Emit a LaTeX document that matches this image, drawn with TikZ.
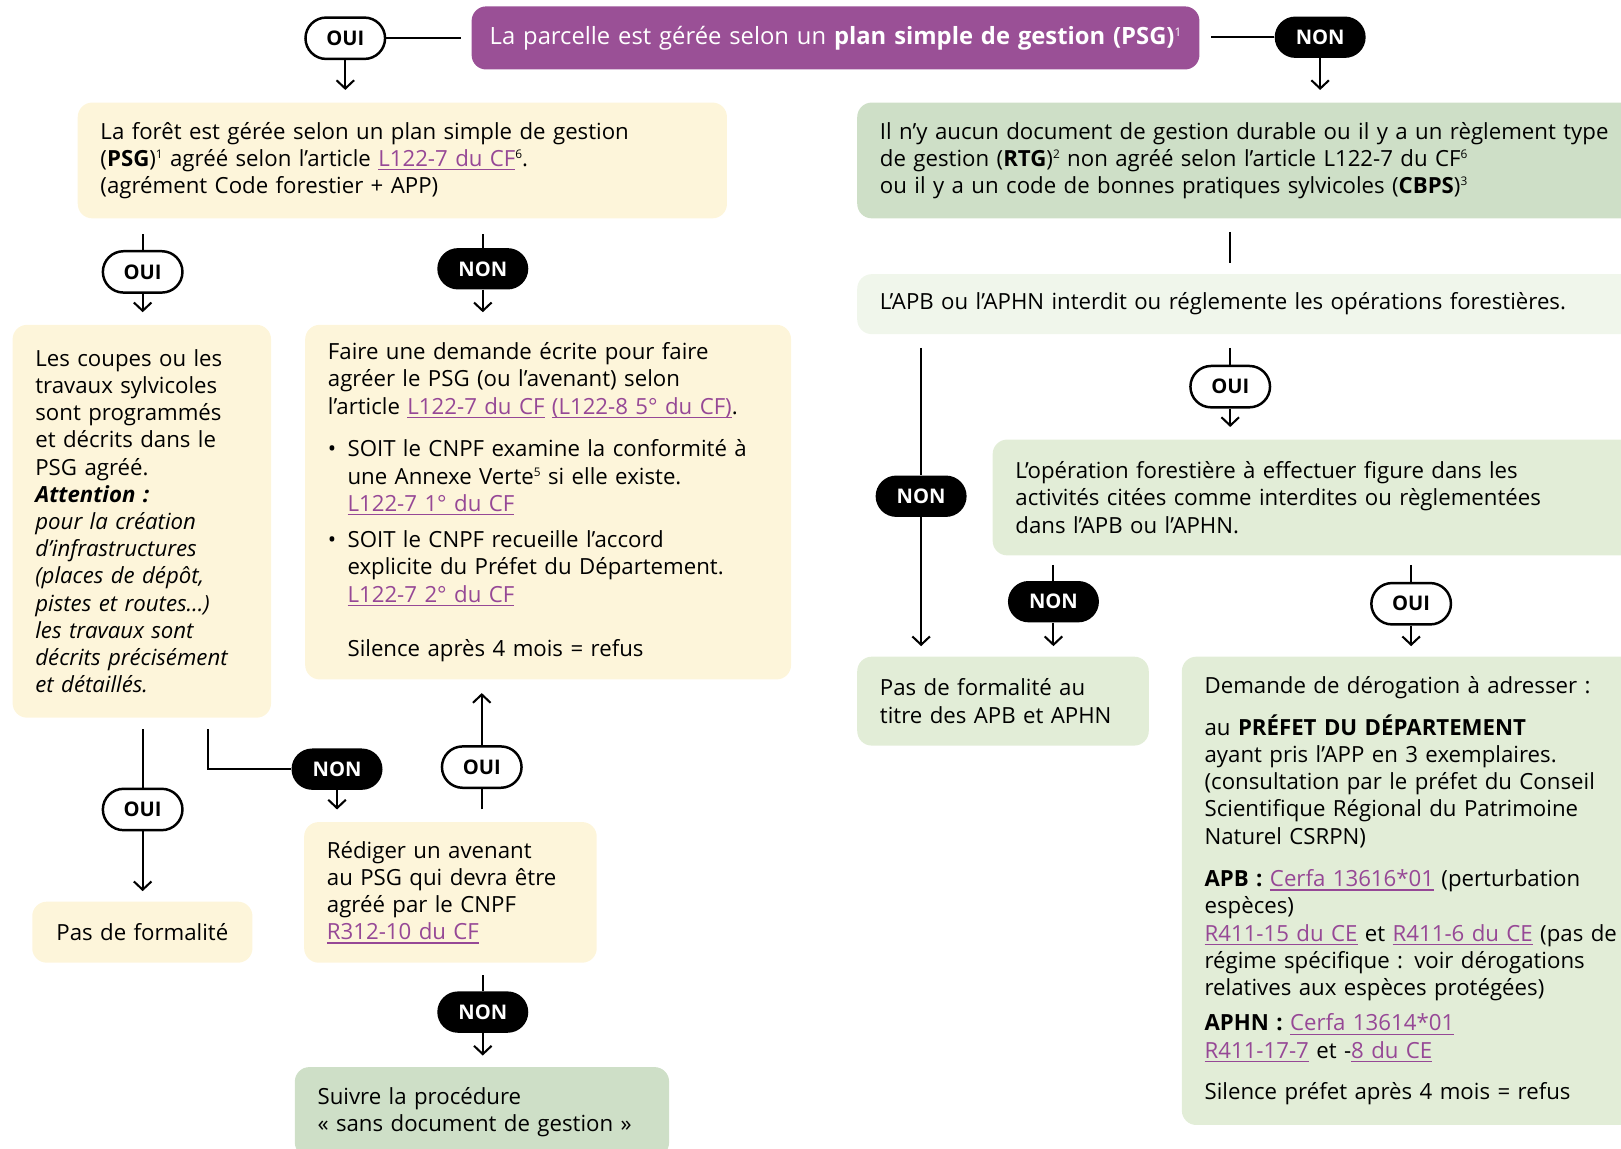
\documentclass[tikz,border=0pt]{standalone}
\usepackage{fontspec}
\setmainfont{Open Sans}
\usetikzlibrary{arrows.meta,positioning}

\definecolor{psgviolet}{RGB}{154,80,150}
\definecolor{lienviolet}{RGB}{150,72,150}
\definecolor{jaune}{RGB}{253,245,218}
\definecolor{vertfonce}{RGB}{206,223,199}
\definecolor{vertmoyen}{RGB}{226,237,215}
\definecolor{vertclair}{RGB}{240,246,235}

\newsavebox{\lienbox}
\newcommand{\lien}[1]{\leavevmode{\color{lienviolet}\sbox{\lienbox}{#1}%
    \rlap{\rule[-4pt]{\wd\lienbox}{1.4pt}}\usebox{\lienbox}}}
\newcommand{\expo}[1]{\raisebox{7.5pt}{\fontsize{11.5}{11.5}\selectfont #1}}
\newcommand{\ind}{\hspace*{19pt}}
\newcommand{\puce}{\makebox[19pt][l]{\textbullet}}

\tikzset{
    box/.style={rounded corners=14pt, inner xsep=22pt, inner ysep=0pt,
        anchor=north west, align=left},
    bulle/.style={rounded corners=20pt, minimum height=40pt, inner sep=0pt,
        font=\fontsize{19.5}{20}\selectfont\bfseries},
    ouibulle/.style={bulle, draw, line width=2.4pt, fill=white, minimum width=77pt},
    nonbulle/.style={bulle, fill=black, text=white, minimum width=88pt},
    fil/.style={line width=2pt},
    fleche/.style={fil, -{Straight Barb[length=8pt,width=17pt]}},
}

\begin{document}
\begin{tikzpicture}[x=1pt,y=-1pt, font=\fontsize{21.5}{26.3}\selectfont]
    \useasboundingbox (0,0) rectangle (1568,1111);

    % Title box
    \node[box, fill=psgviolet, text=white, inner xsep=10pt, text width=684pt, minimum height=61pt,
        align=center, font=\fontsize{23}{26}\selectfont]
        (psg) at (456,6) {La parcelle est gérée selon un \textbf{plan simple de gestion (PSG)}\expo{1}};

    % Left column
    \node[box, fill=jaune, text width=584pt, minimum height=112pt] (foret) at (75,99)
        {La forêt est gérée selon un plan simple de gestion\\
         (\textbf{PSG})\expo{1} agréé selon l’article \lien{L122-7 du CF}\expo{6}.\\
         (agrément Code forestier + APP)};
    \node[box, fill=jaune, text width=206pt, minimum height=380pt] (coupes) at (12,314)
        {Les coupes ou les\\ travaux sylvicoles\\ sont programmés\\ et décrits dans le\\ PSG agréé.\\
         \textbf{\textit{Attention :}}\\
         \textit{pour la création}\\ \textit{d’infrastructures}\\ \textit{(places de dépôt,}\\
         \textit{pistes et routes…)}\\ \textit{les travaux sont}\\ \textit{décrits précisément}\\ \textit{et détaillés.}};
    \node[box, fill=jaune, text width=426pt, minimum height=343pt] (demande) at (295,314)
        {Faire une demande écrite pour faire\\
         agréer le PSG (ou l’avenant) selon\\
         l’article \lien{L122-7 du CF} \lien{(L122-8 5° du CF)}.\\[15pt]
         \puce SOIT le CNPF examine la conformité à\\
         \ind une Annexe Verte\expo{5} si elle existe.\\
         \ind\lien{L122-7 1° du CF}\\[9pt]
         \puce SOIT le CNPF recueille l’accord\\
         \ind explicite du Préfet du Département.\\
         \ind\lien{L122-7 2° du CF}\\[26pt]
         \ind Silence après 4 mois = refus};
    \node[box, fill=jaune, inner xsep=8pt, text width=197pt, minimum height=59pt, align=center]
        (pasform) at (31,872) {Pas de formalité};
    \node[box, fill=jaune, text width=239pt, minimum height=136pt] (rediger) at (294,795)
        {Rédiger un avenant\\ au PSG qui devra être\\ agréé par le CNPF\\ \lien{R312-10 du CF}};
    \node[box, fill=vertfonce, text width=318pt, minimum height=87pt] (suivre) at (285,1032)
        {Suivre la procédure\\ « sans document de gestion »};

    % Right column
    \node[box, fill=vertfonce, text width=740pt, minimum height=112pt] (rtg) at (829,99)
        {Il n’y aucun document de gestion durable ou il y a un règlement type\\
         de gestion (\textbf{RTG})\expo{2} non agréé selon l’article L122-7 du CF\expo{6}\\
         ou il y a un code de bonnes pratiques sylvicoles (\textbf{CBPS})\expo{3}};
    \node[box, fill=vertclair, text width=740pt, minimum height=58pt] (apb) at (829,265)
        {L’APB ou l’APHN interdit ou réglemente les opérations forestières.};
    \node[box, fill=vertmoyen, text width=600pt, minimum height=112pt] (opera) at (960,425)
        {L’opération forestière à effectuer figure dans les\\
         activités citées comme interdites ou règlementées\\
         dans l’APB ou l’APHN.};
    \node[box, fill=vertmoyen, text width=238pt, minimum height=86pt] (pasapb) at (829,635)
        {Pas de formalité au\\ titre des APB et APHN};
    \node[box, fill=vertmoyen, text width=430pt, minimum height=453pt] (derog) at (1143,635)
        {Demande de dérogation à adresser :\\[14pt]
         au \textbf{PRÉFET DU DÉPARTEMENT}\\
         ayant pris l’APP en 3 exemplaires.\\
         (consultation par le préfet du Conseil\\
         Scientifique Régional du Patrimoine\\
         Naturel CSRPN)\\[15pt]
         \textbf{APB :} \lien{Cerfa 13616*01} (perturbation\\
         espèces)\\
         \lien{R411-15 du CE} et \lien{R411-6 du CE} (pas de\\
         régime spécifique : voir dérogations\\
         relatives aux espèces protégées)\\[8pt]
         \textbf{APHN :} \lien{Cerfa 13614*01}\\
         \lien{R411-17-7} et -\lien{8 du CE}\\[14pt]
         Silence préfet après 4 mois = refus};

    % OUI / NON labels
    \node[ouibulle] (oui1) at (334,37) {OUI};
    \node[nonbulle] (non1) at (1277,36) {NON};
    \node[ouibulle] (oui2) at (138,263) {OUI};
    \node[nonbulle] (non2) at (467,260) {NON};
    \node[ouibulle] (oui3) at (138,783) {OUI};
    \node[nonbulle] (non3) at (326,744) {NON};
    \node[ouibulle] (oui4) at (466,742) {OUI};
    \node[nonbulle] (non4) at (467,979) {NON};
    \node[ouibulle] (oui5) at (1190,374) {OUI};
    \node[nonbulle] (non5) at (891,480) {NON};
    \node[nonbulle] (non6) at (1019,582) {NON};
    \node[ouibulle] (oui6) at (1365,584) {OUI};

    % Connectors from the title
    \draw[fil, shorten >=10pt] (oui1) -- (psg.west |- oui1);
    \draw[fil, shorten <=11pt] (psg.east |- non1) -- (non1);
    \draw[fleche, shorten >=12pt] (oui1) -- (oui1 |- foret.north);
    \draw[fleche, shorten >=12pt] (non1) -- (non1 |- rtg.north);

    % Left branch
    \draw[fil, shorten <=15pt] (foret.south -| oui2) -- (oui2);
    \draw[fleche, shorten >=12pt] (oui2) -- (oui2 |- coupes.north);
    \draw[fil, shorten <=15pt] (foret.south -| non2) -- (non2);
    \draw[fleche, shorten >=12pt] (non2) -- (non2 |- demande.north);
    \draw[fil, shorten <=11pt] (coupes.south -| oui3) -- (oui3);
    \draw[fleche, shorten >=10pt] (oui3) -- (oui3 |- pasform.north);
    \draw[fil, shorten <=11pt] ([xshift=63pt]coupes.south -| oui3) |- (non3);
    \draw[fleche, shorten >=12pt] (non3) -- (non3 |- rediger.north);
    \draw[fil, shorten <=12pt] (rediger.north -| oui4) -- (oui4);
    \draw[fleche, shorten >=13pt] (oui4) -- (oui4 |- demande.south);
    \draw[fil, shorten <=12pt] (rediger.south -| non4) -- (non4);
    \draw[fleche, shorten >=11pt] (non4) -- (non4 |- suivre.north);

    % Right branch
    \draw[fil, shorten <=13pt, shorten >=11pt] (rtg.south -| oui5) -- (apb.north -| oui5);
    \draw[fil, shorten <=13pt] (apb.south -| oui5) -- (oui5);
    \draw[fleche, shorten >=12pt] (oui5) -- (oui5 |- opera.north);
    \draw[fil, shorten <=13pt] (apb.south -| non5) -- (non5);
    \draw[fleche, shorten >=10pt] (non5) -- (non5 |- pasapb.north);
    \draw[fil, shorten <=9pt] (opera.south -| non6) -- (non6);
    \draw[fleche, shorten >=10pt] (non6) -- (non6 |- pasapb.north);
    \draw[fil, shorten <=9pt] (opera.south -| oui6) -- (oui6);
    \draw[fleche, shorten >=10pt] (oui6) -- (oui6 |- derog.north);
\end{tikzpicture}
\end{document}
